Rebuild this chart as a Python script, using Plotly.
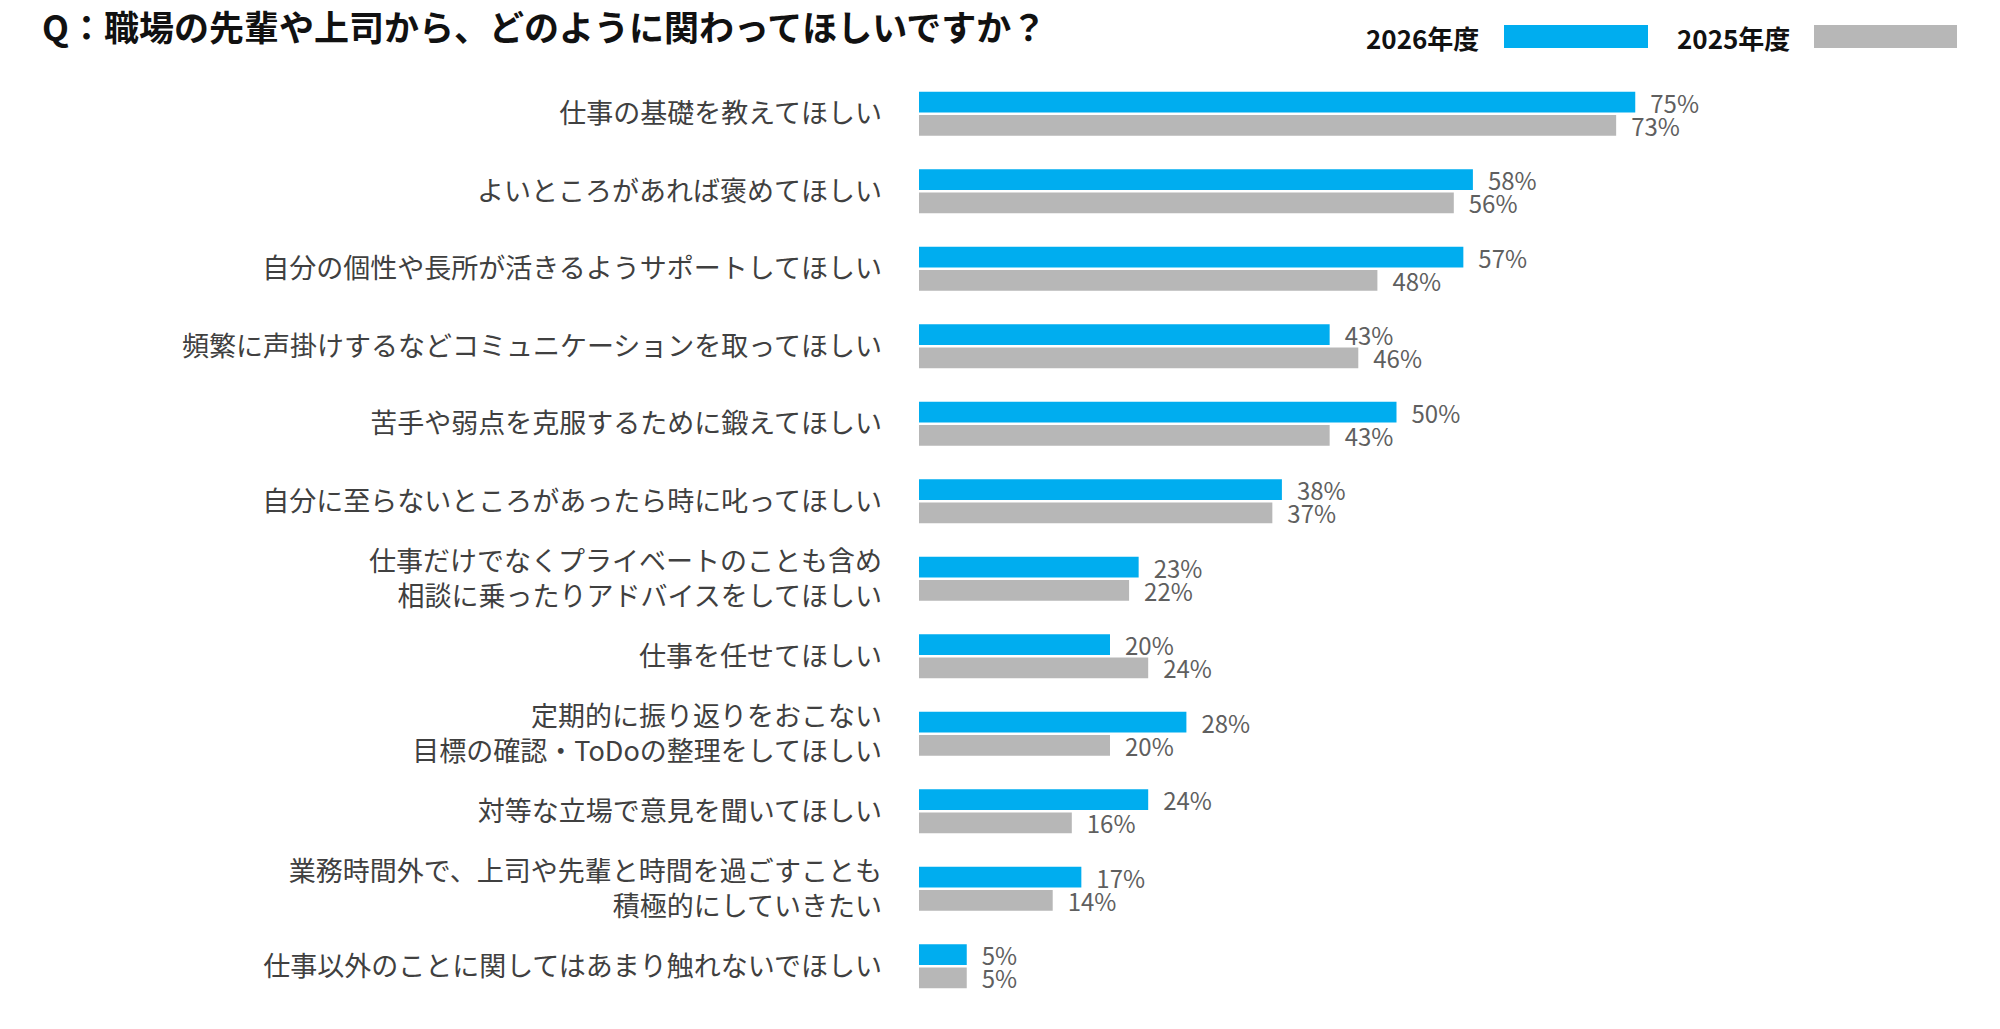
import plotly.graph_objects as go

categories = [
    "仕事の基礎を教えてほしい",
    "よいところがあれば褒めてほしい",
    "自分の個性や長所が活きるようサポートしてほしい",
    "頻繁に声掛けするなどコミュニケーションを取ってほしい",
    "苦手や弱点を克服するために鍛えてほしい",
    "自分に至らないところがあったら時に叱ってほしい",
    "仕事だけでなくプライベートのことも含め<br>相談に乗ったりアドバイスをしてほしい",
    "仕事を任せてほしい",
    "定期的に振り返りをおこない<br>目標の確認・ToDoの整理をしてほしい",
    "対等な立場で意見を聞いてほしい",
    "業務時間外で、上司や先輩と時間を過ごすことも<br>積極的にしていきたい",
    "仕事以外のことに関してはあまり触れないでほしい",
]
values_2026 = [75, 58, 57, 43, 50, 38, 23, 20, 28, 24, 17, 5]
values_2025 = [73, 56, 48, 46, 43, 37, 22, 24, 20, 16, 14, 5]
series_names = ["2026年度", "2025年度"]
title_text = "Q：職場の先輩や上司から、どのように関わってほしいですか？"

BLUE = "#00ADEF"
GREY = "#B7B7B7"
FONT = "Noto Sans CJK JP"

W, H = 2000, 1029
ML, MR, MT, MB = 919, 126, 75, 24
PW, PH = W - ML - MR, H - MT - MB


def px_x(p):
    return (p - ML) / PW


def px_y(p):
    return (H - MB - p) / PH


fig = go.Figure()
for name, vals, col in [(series_names[0], values_2026, BLUE), (series_names[1], values_2025, GREY)]:
    fig.add_trace(go.Bar(
        y=categories, x=vals, orientation="h", name=name,
        marker=dict(color=col, line=dict(width=0)),
        text=[f"\u2002{v}%" for v in vals], textposition="outside",
        constraintext="none",
        textfont=dict(family=FONT, size=24, color="#5f5f5f"),
        cliponaxis=False, showlegend=False,
    ))

fig.update_layout(
    width=W, height=H,
    margin=dict(l=ML, r=MR, t=MT, b=MB, pad=0),
    paper_bgcolor="white", plot_bgcolor="white",
    barmode="group", bargap=0.4, bargroupgap=0.1,
    title=dict(text=title_text, x=42 / W, xref="container", xanchor="left",
               y=1 - 29 / H, yref="container", yanchor="middle",
               font=dict(family=FONT, size=35, color="#111111", weight="bold")),
    xaxis=dict(range=[0, 100], visible=False, fixedrange=True),
    yaxis=dict(autorange="reversed", showgrid=False, zeroline=False, showline=False,
               ticks="", ticklabelstandoff=36,
               tickfont=dict(family=FONT, size=27, color="#404040")),
)

# legend (custom wide swatches)
leg = [(series_names[0], 1364, 1504, 1648, BLUE), (series_names[1], 1675, 1814, 1957, GREY)]
for name, tx, sx0, sx1, col in leg:
    fig.add_annotation(text=name, xref="paper", yref="paper", x=px_x(tx), y=px_y(37),
                       xanchor="left", yanchor="middle", showarrow=False,
                       font=dict(family=FONT, size=26, color="#111111", weight="bold"))
    fig.add_shape(type="rect", xref="paper", yref="paper", x0=px_x(sx0), x1=px_x(sx1),
                  y0=px_y(48), y1=px_y(25), fillcolor=col, line=dict(width=0))

fig.write_html("out.html", config={"displayModeBar": False},
               post_script="document.body.style.margin='0';")
